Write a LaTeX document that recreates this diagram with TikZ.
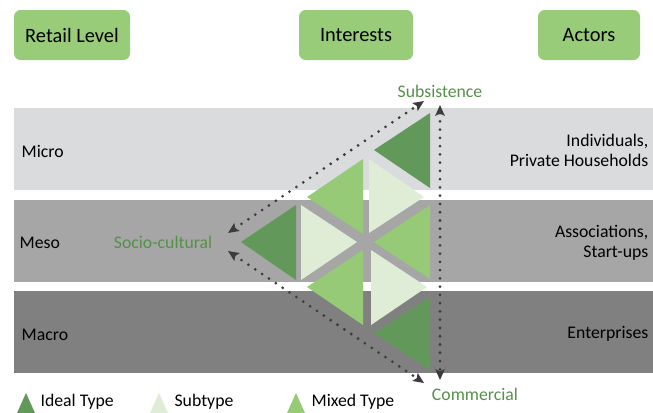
\documentclass[tikz,border=0pt]{standalone}
\usepackage{fontspec}
\setmainfont{Carlito}
\usetikzlibrary{arrows.meta}

\definecolor{hdrgreen}{RGB}{152,204,120}
\definecolor{idealgreen}{RGB}{98,153,90}
\definecolor{mixedgreen}{RGB}{150,202,118}
\definecolor{subgreen}{RGB}{224,237,214}
\definecolor{intgreen}{RGB}{84,145,72}
\definecolor{microgray}{RGB}{218,219,221}
\definecolor{mesogray}{RGB}{166,166,166}
\definecolor{macrogray}{RGB}{128,128,128}
\definecolor{arrgray}{RGB}{60,60,60}

\begin{document}
\begin{tikzpicture}[
    x=0.75pt, y=-0.75pt,
    hdr/.style={rectangle, rounded corners=5pt, fill=hdrgreen,
        minimum height=37.5pt, font=\fontsize{15.3}{18}\selectfont},
    lvl/.style={anchor=west, font=\fontsize{13.3}{15}\selectfont},
    act/.style={anchor=east, align=right, font=\fontsize{13.3}{15}\selectfont},
    intr/.style={text=intgreen, font=\fontsize{13.3}{15}\selectfont},
    legtext/.style={anchor=west, inner sep=1pt, font=\fontsize{13.3}{15}\selectfont},
    arr/.style={draw=arrgray, line width=2.3pt, line cap=round,
        dash pattern=on 0pt off 6.2pt,
        {Stealth[length=8pt,width=7pt,inset=1.5pt]}-{Stealth[length=8pt,width=7pt,inset=1.5pt]}}
    ]

\useasboundingbox (0,0) rectangle (653,412);

%headers
\node[hdr, minimum width=87pt] (retail) at (72,35) {Retail Level};
\node[hdr, minimum width=85.5pt] (interests) at (356,35) {Interests};
\node[hdr, minimum width=76.5pt] (actors) at (589,35) {Actors};

%bands
\fill[microgray] (14,108) rectangle (653,190);
\fill[mesogray] (14,200) rectangle (653,282);
\fill[macrogray] (14,291) rectangle (653,373);

\node[lvl] (micro) at (17,151) {Micro};
\node[lvl] (meso) at (15,243) {Meso};
\node[lvl] (macro) at (17,335) {Macro};

\node[act] (indiv) at (653,150) {Individuals,\\Private Households};
\node[act] (assoc) at (653,243) {Associations,\\Start-ups};
\node[act] (enter) at (653,334) {Enterprises};

%triangles, upper part
\fill[idealgreen] (430,113) -- (430,188) -- (374,150) -- cycle;
\fill[mixedgreen] (363,159) -- (363,234) -- (307,197) -- cycle;
\fill[subgreen] (369,159) -- (369,233) -- (424,197) -- cycle;
%middle part
\fill[idealgreen] (296,205) -- (296,280) -- (241,242) -- cycle;
\fill[subgreen] (301,205) -- (301,280) -- (357,242) -- cycle;
\fill[mixedgreen] (430,205) -- (430,279) -- (374,242) -- cycle;
%lower part
\fill[mixedgreen] (363,250) -- (363,325) -- (307,287) -- cycle;
\fill[subgreen] (371,250) -- (371,325) -- (427,287) -- cycle;
\fill[idealgreen] (430,297) -- (430,370) -- (374,333) -- cycle;

%interests
\node[intr] (subs) at (440,91) {Subsistence};
\node[intr, anchor=east] (socio) at (217,242) {Socio-cultural};
\node[intr] (comm) at (475,394) {Commercial};

\coordinate (subsA) at (424,101);
\coordinate (subsB) at (440,105);
\coordinate (socioA) at (228,233);
\coordinate (socioB) at (228,251);
\coordinate (commA) at (424,383);
\coordinate (commB) at (440,380);

\draw[arr] (socioA) -- (subsA);
\draw[arr] (socioB) -- (commA);
\draw[arr] (subsB) -- (commB);

%legend
\fill[idealgreen] (17,413) -- (26,393) -- (35,413) -- cycle;
\node[legtext] (ideal) at (39,402) {Ideal Type};
\fill[subgreen] (150,413) -- (159,393) -- (168,413) -- cycle;
\node[legtext] (sub) at (173,402) {Subtype};
\fill[mixedgreen] (287,413) -- (296,393) -- (305,413) -- cycle;
\node[legtext] (mixed) at (310,402) {Mixed Type};
\end{tikzpicture}
\end{document}
